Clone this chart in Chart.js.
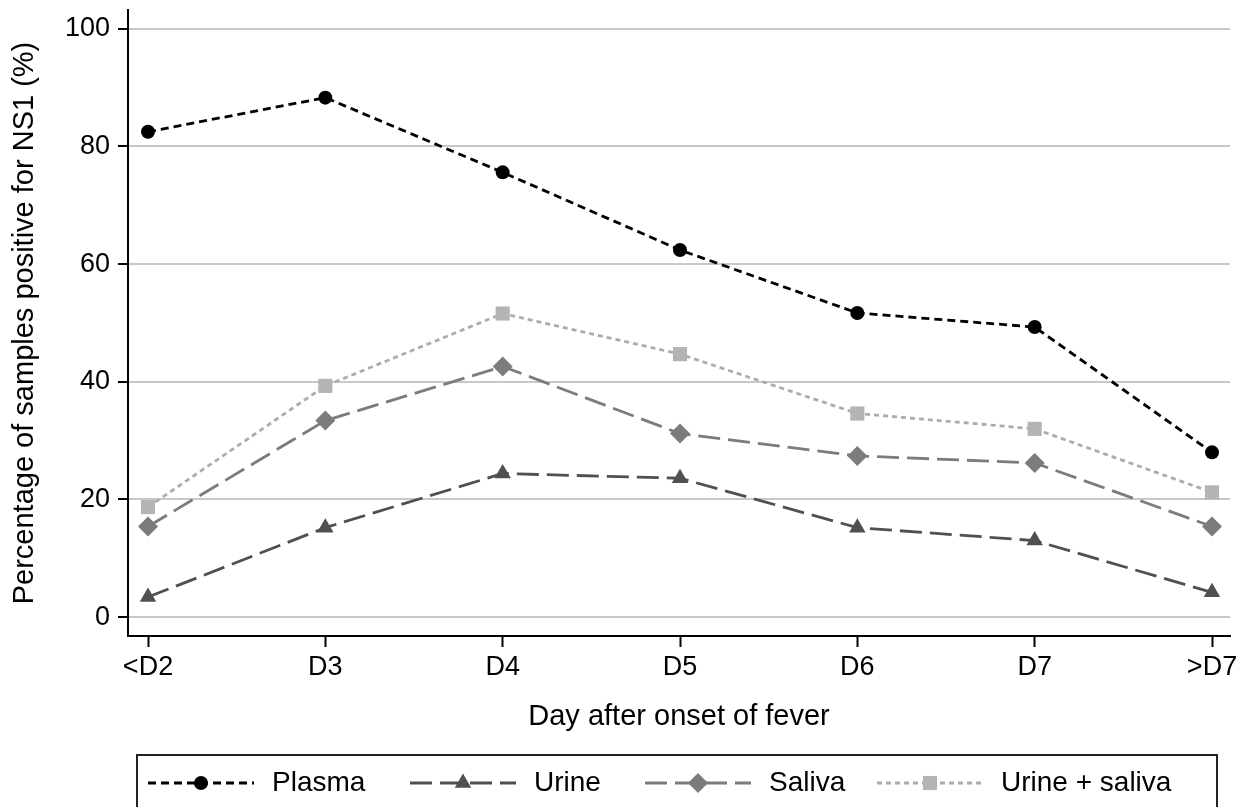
<!DOCTYPE html>
<html>
<head>
<meta charset="utf-8">
<script src="https://cdn.jsdelivr.net/npm/chart.js@4.4.1/dist/chart.umd.min.js"></script>
<style>
html,body{margin:0;padding:0;background:#fff;}
#wrap{width:1240px;height:807px;position:relative;}
</style>
</head>
<body>
<div id="wrap"><canvas id="c" width="1240" height="807"></canvas></div>
<script>
const categories = ['<D2', 'D3', 'D4', 'D5', 'D6', 'D7', '>D7'];
const yTicks = [0, 20, 40, 60, 80, 100];
const seriesNames = ['Plasma', 'Urine', 'Saliva', 'Urine + saliva'];
const plasma = [82.5, 88.3, 75.6, 62.4, 51.7, 49.3, 28.0];
const urine = [3.4, 15.2, 24.4, 23.6, 15.2, 13.0, 4.2];
const saliva = [15.4, 33.4, 42.6, 31.2, 27.4, 26.2, 15.4];
const urineSaliva = [18.7, 39.3, 51.6, 44.7, 34.6, 32.0, 21.2];

const FONT = 'Liberation Sans, Arial, Helvetica, sans-serif';
const toXY = arr => arr.map((v, i) => ({x: i, y: v}));

const styles = [
  {color: '#000000', pcolor: '#000000', dash: [8, 5], width: 2.8, pointStyle: 'circle', radius: 7},
  {color: '#505050', pcolor: '#505050', dash: [22, 8], width: 2.8, pointStyle: 'triangle', radius: 9.5},
  {color: '#7c7c7c', pcolor: '#7c7c7c', dash: [22, 8], width: 2.8, pointStyle: 'rectRot', radius: 10},
  {color: '#acacac', pcolor: '#b4b4b4', dash: [5, 4], width: 2.8, pointStyle: 'rect', radius: 10}
];
const values = [plasma, urine, saliva, urineSaliva];

const datasets = values.map((vals, i) => ({
  label: seriesNames[i],
  data: toXY(vals),
  borderColor: styles[i].color,
  backgroundColor: styles[i].pcolor,
  borderWidth: styles[i].width,
  borderDash: styles[i].dash,
  pointStyle: styles[i].pointStyle,
  pointRadius: styles[i].radius,
  pointBackgroundColor: styles[i].pcolor,
  pointBorderColor: styles[i].pcolor,
  pointBorderWidth: 0,
  tension: 0,
  fill: false
}));

const legendCenters = [201, 463, 698, 930];
const boxLegend = {
  id: 'boxLegend',
  afterDraw(chart) {
    const ctx = chart.ctx;
    ctx.save();
    ctx.setLineDash([]);
    ctx.strokeStyle = '#222';
    ctx.lineWidth = 2;
    ctx.strokeRect(137, 755, 1217 - 137, 90);
    const y = 783;
    chart.data.datasets.forEach((ds, i) => {
      const cx = legendCenters[i];
      ctx.save();
      ctx.strokeStyle = ds.borderColor;
      ctx.lineWidth = ds.borderWidth;
      ctx.setLineDash(ds.borderDash);
      ctx.beginPath();
      ctx.moveTo(cx - 53, y);
      ctx.lineTo(cx + 53, y);
      ctx.stroke();
      ctx.setLineDash([]);
      ctx.fillStyle = ds.pointBackgroundColor;
      ctx.strokeStyle = ds.pointBorderColor;
      Chart.helpers.drawPoint(ctx, {pointStyle: ds.pointStyle, radius: ds.pointRadius, rotation: 0, borderWidth: 0}, cx, y);
      ctx.restore();
      ctx.fillStyle = '#000';
      ctx.font = '28px ' + FONT;
      ctx.textBaseline = 'middle';
      ctx.textAlign = 'left';
      ctx.fillText(ds.label, cx + 71, y);
    });
    ctx.restore();
  }
};

new Chart(document.getElementById('c'), {
  type: 'line',
  data: {datasets},
  plugins: [boxLegend],
  options: {
    responsive: false,
    animation: false,
    layout: {padding: {top: 8, right: 10, bottom: 0, left: 0}},
    plugins: {legend: {display: false}, tooltip: {enabled: false}},
    scales: {
      x: {
        type: 'linear',
        min: -0.1128,
        max: 6.1015,
        afterBuildTicks: s => { s.ticks = categories.map((_, i) => ({value: i})); },
        afterFit: s => { s.height = 171; s.paddingLeft = 0; s.paddingRight = 0; },
        ticks: {
          callback: v => categories[v],
          color: '#000',
          font: {family: FONT, size: 27},
          padding: 4,
          maxRotation: 0,
          autoSkip: false
        },
        grid: {drawOnChartArea: false, tickLength: 11, tickColor: '#000', tickWidth: 2},
        border: {display: true, color: '#000', width: 2},
        title: {display: true, text: 'Day after onset of fever', color: '#000', font: {family: FONT, size: 29}, padding: {top: 0, bottom: 73}}
      },
      y: {
        type: 'linear',
        min: -3.22,
        max: 103.2,
        afterBuildTicks: s => { s.ticks = yTicks.map(v => ({value: v})); },
        afterFit: s => { s.width = 128; s.paddingTop = 0; s.paddingBottom = 0; },
        ticks: {color: '#000', font: {family: FONT, size: 27}, padding: 8},
        grid: {color: '#c8c8c8', lineWidth: 2, tickLength: 10, tickColor: '#000', tickWidth: 2},
        border: {display: true, color: '#000', width: 2},
        title: {display: true, text: 'Percentage of samples positive for NS1 (%)', color: '#000', font: {family: FONT, size: 29}, padding: {top: 8, bottom: 0}}
      }
    }
  }
});
</script>
</body>
</html>
